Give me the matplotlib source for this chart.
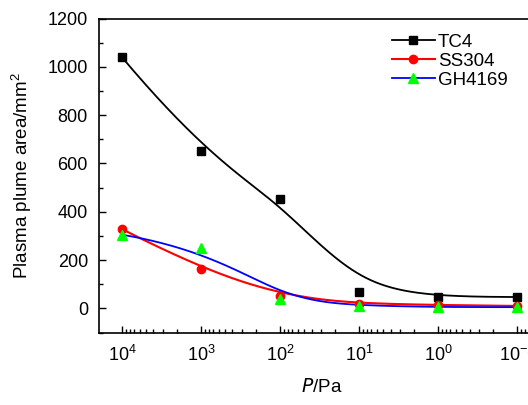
import numpy as np
import matplotlib
matplotlib.use("Agg")
import matplotlib.pyplot as plt
from matplotlib.ticker import LogLocator, MultipleLocator

plt.rcParams["font.family"] = ["Liberation Sans", "DejaVu Sans"]
plt.rcParams["mathtext.default"] = "regular"

pressure = [1e4, 1e3, 1e2, 1e1, 1e0, 1e-1]
tc4 = [1040, 651, 455, 67, 48, 47]
ss304 = [328, 163, 52, 18, 14, 10]
gh4169 = [305, 250, 38, 10, 5, 5]


def bspline(xs, ys, k=3, n=400):
    """clamped B-spline through control points (like Origin's B-spline line)"""
    xs = np.asarray(xs, float)
    ys = np.asarray(ys, float)
    m = len(xs)
    knots = np.concatenate([np.zeros(k), np.arange(m - k + 1), np.full(k, m - k)])
    t = np.linspace(0, m - k, n)
    t[-1] -= 1e-9

    def basis(i, p, u):
        if p == 0:
            return ((knots[i] <= u) & (u < knots[i + 1])).astype(float)
        a = np.zeros_like(u)
        b = np.zeros_like(u)
        d1 = knots[i + p] - knots[i]
        d2 = knots[i + p + 1] - knots[i + 1]
        if d1 > 0:
            a = (u - knots[i]) / d1 * basis(i, p - 1, u)
        if d2 > 0:
            b = (knots[i + p + 1] - u) / d2 * basis(i + 1, p - 1, u)
        return a + b

    N = np.array([basis(i, k, t) for i in range(m)])
    return N.T @ xs, N.T @ ys


fig = plt.figure(figsize=(5.28, 4.05), dpi=100)
ax = fig.add_axes([0.1875, 0.179, 0.845, 0.775])

series = [
    ("TC4", tc4, "black", "s", 5.5, 1.3),
    ("SS304", ss304, "#ff0000", "o", 6, 1.5),
    ("GH4169", gh4169, "#0000ff", "^", 7, 1.3),
]
logp = np.log10(pressure)
for name, vals, col, mk, ms, lw in series:
    cx, cy = bspline(logp, vals)
    ax.plot(10 ** cx, cy, color=col, lw=lw, zorder=2)
    mcol = "#00ff00" if mk == "^" else col
    ax.plot(pressure, vals, ls="none", marker=mk, ms=ms, color=mcol, zorder=3)
    ax.plot([], [], color=col, lw=lw, marker=mk, ms=ms, mfc=mcol, mec=mcol, label=name)

ax.set_xscale("log")
ax.set_xlim(10 ** 4.291, 10 ** -1.354)
ax.set_ylim(-100, 1200)
ax.xaxis.set_major_locator(LogLocator(base=10, numticks=20))
ax.xaxis.set_minor_locator(LogLocator(base=10, subs=np.arange(2, 10), numticks=20))
ax.yaxis.set_major_locator(MultipleLocator(200))
ax.yaxis.set_minor_locator(MultipleLocator(100))
ax.tick_params(which="both", direction="in", labelsize=13, width=1)
ax.tick_params(which="major", length=5)
ax.tick_params(which="minor", length=3)
ax.tick_params(axis="x", pad=9)
ax.tick_params(axis="y", pad=8)
for s in ax.spines.values():
    s.set_linewidth(1.2)

ax.set_xlabel("$\\it{P}$/Pa", fontsize=13.5, labelpad=9)
ax.set_ylabel("Plasma plume area/mm$^2$", fontsize=13.5, labelpad=10)

ax.legend(loc="upper left", bbox_to_anchor=(0.728, 0.935), bbox_transform=fig.transFigure,
          frameon=False, fontsize=13.5, handlelength=2.3, labelspacing=0.1,
          handletextpad=0.15, borderaxespad=0)

fig.savefig("out.png", dpi=100)
